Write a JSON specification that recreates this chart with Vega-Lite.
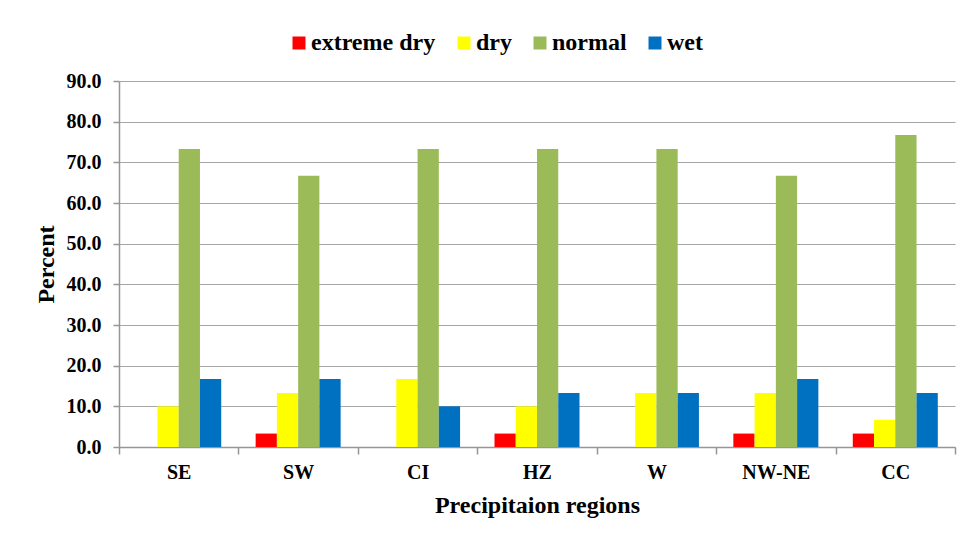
{
  "$schema": "https://vega.github.io/schema/vega-lite/v6.json",
  "autosize": "none",
  "width": 836,
  "height": 366,
  "padding": {"left": 119, "top": 81, "right": 5, "bottom": 87},
  "background": "white",
  "data": {
    "values": [
      {"region": "SE", "class": "extreme dry", "percent": 0},
      {"region": "SE", "class": "dry", "percent": 10.0},
      {"region": "SE", "class": "normal", "percent": 73.3},
      {"region": "SE", "class": "wet", "percent": 16.7},
      {"region": "SW", "class": "extreme dry", "percent": 3.3},
      {"region": "SW", "class": "dry", "percent": 13.3},
      {"region": "SW", "class": "normal", "percent": 66.7},
      {"region": "SW", "class": "wet", "percent": 16.7},
      {"region": "CI", "class": "extreme dry", "percent": 0},
      {"region": "CI", "class": "dry", "percent": 16.7},
      {"region": "CI", "class": "normal", "percent": 73.3},
      {"region": "CI", "class": "wet", "percent": 10.0},
      {"region": "HZ", "class": "extreme dry", "percent": 3.3},
      {"region": "HZ", "class": "dry", "percent": 10.0},
      {"region": "HZ", "class": "normal", "percent": 73.3},
      {"region": "HZ", "class": "wet", "percent": 13.3},
      {"region": "W", "class": "extreme dry", "percent": 0},
      {"region": "W", "class": "dry", "percent": 13.3},
      {"region": "W", "class": "normal", "percent": 73.3},
      {"region": "W", "class": "wet", "percent": 13.3},
      {"region": "NW-NE", "class": "extreme dry", "percent": 3.3},
      {"region": "NW-NE", "class": "dry", "percent": 13.3},
      {"region": "NW-NE", "class": "normal", "percent": 66.7},
      {"region": "NW-NE", "class": "wet", "percent": 16.7},
      {"region": "CC", "class": "extreme dry", "percent": 3.3},
      {"region": "CC", "class": "dry", "percent": 6.7},
      {"region": "CC", "class": "normal", "percent": 76.7},
      {"region": "CC", "class": "wet", "percent": 13.3}
    ]
  },
  "mark": {"type": "bar"},
  "encoding": {
    "x": {
      "field": "region",
      "type": "nominal",
      "sort": ["SE", "SW", "CI", "HZ", "W", "NW-NE", "CC"],
      "scale": {"paddingInner": 0, "paddingOuter": 0},
      "axis": {
        "title": "Precipitaion regions",
        "labelAngle": 0,
        "tickBand": "extent",
        "tickSize": 7,
        "labelPadding": 8,
        "titlePadding": 11,
        "grid": false
      }
    },
    "xOffset": {
      "field": "class",
      "type": "nominal",
      "sort": ["extreme dry", "dry", "normal", "wet"],
      "scale": {"paddingInner": 0, "paddingOuter": 0.81}
    },
    "y": {
      "field": "percent",
      "type": "quantitative",
      "scale": {"domain": [0, 90], "nice": false},
      "axis": {
        "title": "Percent",
        "values": [0, 10, 20, 30, 40, 50, 60, 70, 80, 90],
        "format": ".1f",
        "tickSize": 6,
        "labelPadding": 12,
        "titlePadding": 8,
        "grid": true
      }
    },
    "color": {
      "field": "class",
      "type": "nominal",
      "sort": ["extreme dry", "dry", "normal", "wet"],
      "scale": {
        "domain": ["extreme dry", "dry", "normal", "wet"],
        "range": ["#FF0000", "#FFFF00", "#9BBB59", "#0070C0"]
      },
      "legend": {
        "title": null,
        "orient": "none",
        "legendX": 168,
        "legendY": -50,
        "direction": "horizontal",
        "symbolType": "square",
        "symbolSize": 169,
        "symbolStrokeWidth": 0,
        "labelOffset": 0,
        "columnPadding": 16,
        "labelFont": "Liberation Serif, DejaVu Serif, serif",
        "labelFontWeight": "bold",
        "labelFontSize": 24,
        "labelColor": "#000000"
      }
    }
  },
  "config": {
    "font": "Liberation Serif, DejaVu Serif, serif",
    "view": {"stroke": null},
    "axis": {
      "labelFont": "Liberation Serif, DejaVu Serif, serif",
      "labelFontWeight": "bold",
      "labelFontSize": 20,
      "labelColor": "#000000",
      "titleFont": "Liberation Serif, DejaVu Serif, serif",
      "titleFontWeight": "bold",
      "titleFontSize": 24,
      "titleColor": "#000000",
      "domainColor": "#969696",
      "tickColor": "#969696",
      "gridColor": "#A6A6A6",
      "domainWidth": 1.5,
      "tickWidth": 1.5,
      "gridWidth": 1.2
    }
  }
}
